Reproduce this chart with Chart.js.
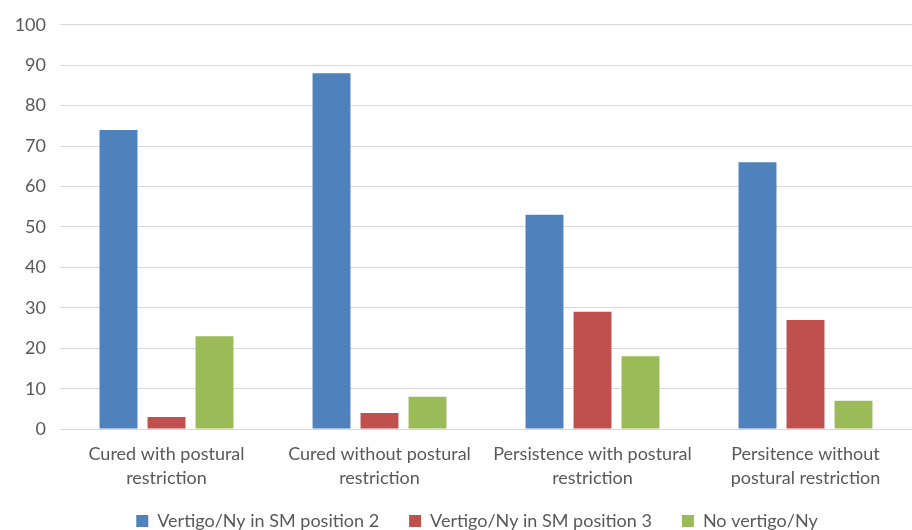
<!DOCTYPE html>
<html lang="en">
<head>
    <meta charset="UTF-8">
    <title>Vertigo outcome chart</title>
    <style>
        html, body {
            margin: 0;
            padding: 0;
            background: #ffffff;
        }

        #wrap {
            width: 912px;
            height: 530px;
        }
    </style>
</head>
<body>
    <div id="wrap">
        <canvas id="chart" width="912" height="530"></canvas>
    </div>

    <script src="https://cdn.jsdelivr.net/npm/chart.js"></script>
    <script>
        const categories = [
            ['Cured with postural', 'restriction'],
            ['Cured without postural', 'restriction'],
            ['Persistence with postural', 'restriction'],
            ['Persitence without', 'postural restriction']
        ];
        const seriesNames = ['Vertigo/Ny in SM position 2', 'Vertigo/Ny in SM position 3', 'No vertigo/Ny'];
        const position2 = [74, 88, 53, 66];
        const position3 = [3, 4, 29, 27];
        const noVertigo = [23, 8, 18, 7];
        const yTicks = [0, 10, 20, 30, 40, 50, 60, 70, 80, 90, 100];

        const colors = ['#4F81BD', '#C0504D', '#9BBB59'];
        const textColor = '#595959';
        const fontFamily = 'Lato, "Open Sans", sans-serif';

        // the legend keeps wide gaps between items, but that padding also pushes it down
        const moveLegend = {
            id: 'moveLegend',
            afterLayout(chart) {
                const lg = chart.legend;
                if (lg) {
                    lg.top -= 21;
                    lg.bottom -= 21;
                    lg.left += 21;
                    lg.right += 21;
                }
            }
        };

        const ctx = document.getElementById('chart').getContext('2d');
        const chart = new Chart(ctx, {
            type: 'bar',
            data: {
                labels: categories,
                datasets: [position2, position3, noVertigo].map((values, i) => ({
                    label: seriesNames[i],
                    data: values,
                    backgroundColor: colors[i],
                    borderWidth: 0,
                    categoryPercentage: 0.676,
                    barPercentage: 0.79
                }))
            },
            options: {
                responsive: false,
                animation: false,
                layout: {
                    padding: { top: 14, right: 0, left: 0, bottom: -31 }
                },
                scales: {
                    x: {
                        grid: { display: false, drawTicks: false },
                        border: { display: true, color: '#d9d9d9', width: 1 },
                        ticks: {
                            color: textColor,
                            font: { family: fontFamily, size: 18, lineHeight: 1.33 },
                            padding: 13,
                            maxRotation: 0,
                            autoSkip: false
                        }
                    },
                    y: {
                        min: 0,
                        max: 100,
                        afterFit: (scale) => { scale.width = 60; },
                        afterBuildTicks: (scale) => {
                            scale.ticks = yTicks.map(v => ({ value: v }));
                        },
                        grid: { color: '#d9d9d9', drawTicks: false },
                        border: { display: false },
                        ticks: {
                            color: textColor,
                            font: { family: fontFamily, size: 18 },
                            padding: 14
                        }
                    }
                },
                plugins: {
                    legend: {
                        position: 'bottom',
                        labels: {
                            color: textColor,
                            font: { family: fontFamily, size: 18 },
                            boxWidth: 12,
                            boxHeight: 12,
                            padding: 30
                        }
                    },
                    tooltip: { enabled: false }
                }
            },
            plugins: [moveLegend]
        });
    </script>
</body>
</html>
